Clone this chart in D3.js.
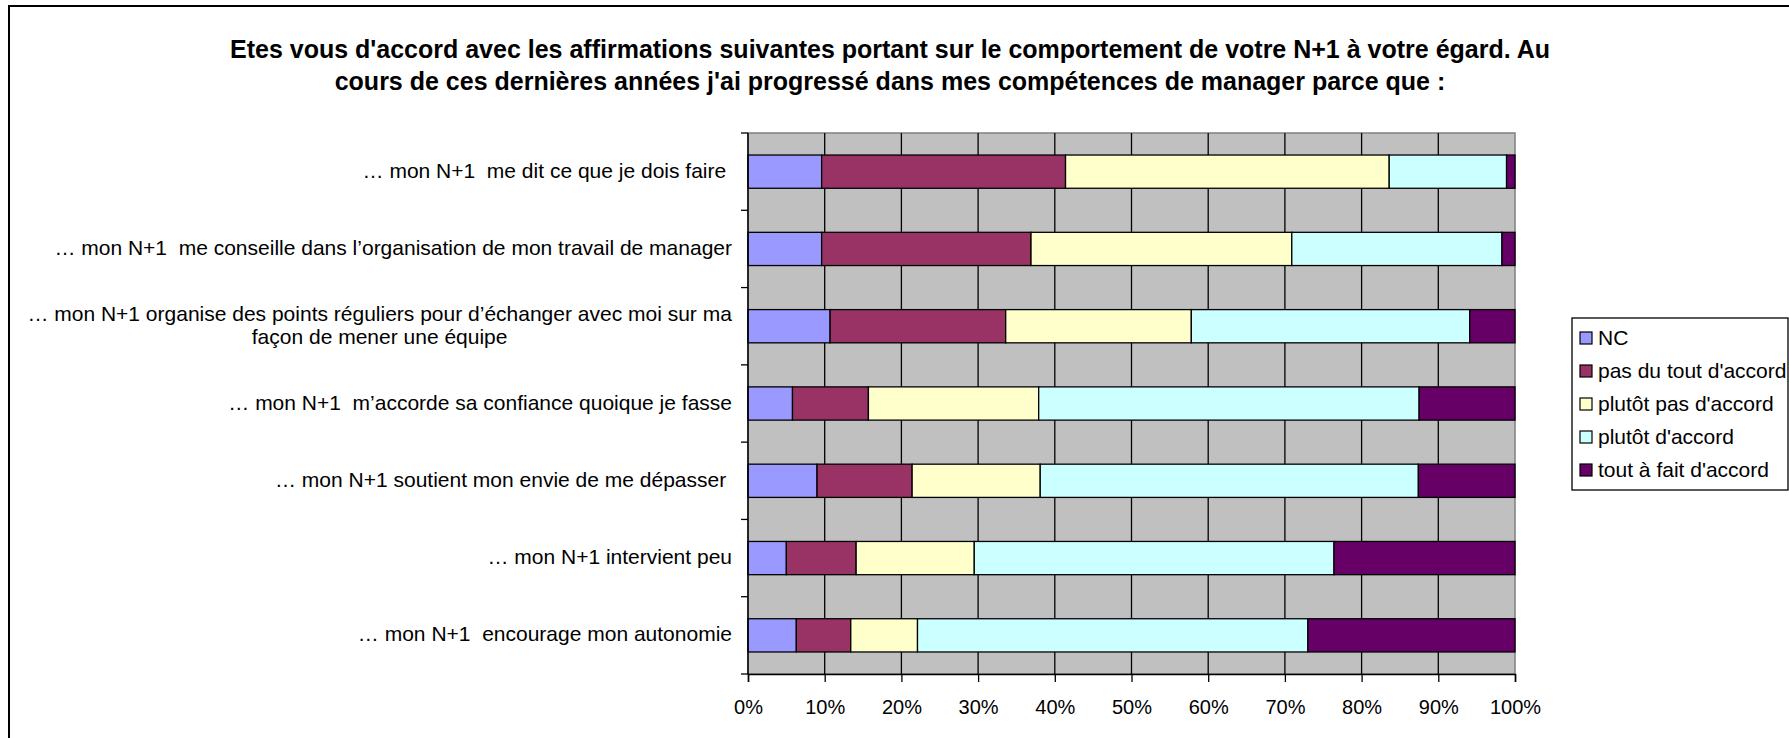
<!DOCTYPE html>
<html>
<head>
<meta charset="utf-8" />
<title>N+1</title>
<script src="https://cdnjs.cloudflare.com/ajax/libs/d3/7.8.5/d3.min.js"></script>
<style>
  body { margin: 0; background: white; }
  text { font-family: "Liberation Sans", Arial, sans-serif; fill: black; white-space: pre; }
</style>
</head>
<body>
<svg id="chart" width="1789" height="738"></svg>
<script>
// categories, top to bottom
var categories = [
  "… mon N+1  me dit ce que je dois faire ",
  "… mon N+1  me conseille dans l’organisation de mon travail de manager",
  "… mon N+1 organise des points réguliers pour d’échanger avec moi sur ma|façon de mener une équipe",
  "… mon N+1  m’accorde sa confiance quoique je fasse",
  "… mon N+1 soutient mon envie de me dépasser ",
  "… mon N+1 intervient peu",
  "… mon N+1  encourage mon autonomie"
];

var seriesNames = ["NC", "pas du tout d'accord", "plutôt pas d'accord", "plutôt d'accord", "tout à fait d'accord"];
var seriesColors = ["#9999FF", "#993366", "#FFFFCC", "#CCFFFF", "#660066"];

// percentages per category
var nc        = [9.6, 9.6, 10.7, 5.8, 9.0, 5.0, 6.3];
var pasDuTout = [31.8, 27.3, 22.9, 9.9, 12.4, 9.1, 7.1];
var plutotPas = [42.2, 34.0, 24.2, 22.2, 16.7, 15.4, 8.7];
var plutot    = [15.3, 27.4, 36.3, 49.6, 49.3, 46.9, 50.9];
var toutAFait = [1.1, 1.7, 5.9, 12.5, 12.6, 23.6, 27.0];

var xTicks = [0, 10, 20, 30, 40, 50, 60, 70, 80, 90, 100];

var titleLines = [
  "Etes vous d'accord avec les affirmations suivantes portant sur le comportement de votre N+1 à votre égard. Au",
  "cours de ces dernières années j'ai progressé dans mes compétences de manager parce que :"
];

var rows = categories.map(function(c, i) {
  return {cat: c, "NC": nc[i], "pas du tout d'accord": pasDuTout[i],
    "plutôt pas d'accord": plutotPas[i], "plutôt d'accord": plutot[i],
    "tout à fait d'accord": toutAFait[i]};
});

var svg = d3.select("#chart");
var pLeft = 748, pRight = 1515, pTop = 133, pBottom = 674;

// outer chart frame
svg.append("rect").attr("x", 9).attr("y", 6).attr("width", 1800).attr("height", 760)
  .attr("fill", "white").attr("stroke", "black").attr("stroke-width", 2);

// title
svg.selectAll(".title").data(titleLines).enter().append("text")
  .attr("x", 890).attr("y", function(d, i) { return 58 + i * 32; })
  .attr("text-anchor", "middle").style("font-weight", "bold").style("font-size", "25px")
  .text(function(d) { return d; });

var x = d3.scaleLinear().domain([0, 100]).range([pLeft, pRight]);
var y = d3.scaleBand().domain(categories).range([pTop, pBottom]).paddingInner(0.57).paddingOuter(0.285);

// plot background
svg.append("rect").attr("x", pLeft).attr("y", pTop).attr("width", pRight - pLeft).attr("height", pBottom - pTop)
  .attr("fill", "#C0C0C0").attr("stroke", "#808080").attr("stroke-width", 1.5);

// vertical gridlines
svg.selectAll(".grid").data(xTicks.slice(1, -1)).enter().append("line")
  .attr("x1", function(d) { return x(d); }).attr("x2", function(d) { return x(d); })
  .attr("y1", pTop).attr("y2", pBottom).attr("stroke", "black").attr("stroke-width", 1.3);

// stacked bars
var stack = d3.stack().keys(seriesNames);
var layers = stack(rows);
svg.selectAll(".layer").data(layers).enter().append("g")
  .attr("fill", function(d, i) { return seriesColors[i]; })
  .selectAll("rect").data(function(d) { return d; }).enter().append("rect")
  .attr("x", function(d) { return x(d[0]); })
  .attr("width", function(d) { return x(d[1]) - x(d[0]); })
  .attr("y", function(d) { return y(d.data.cat); })
  .attr("height", y.bandwidth())
  .attr("stroke", "black").attr("stroke-width", 1.3);

// y axis line and ticks at category boundaries
svg.append("line").attr("x1", pLeft).attr("x2", pLeft).attr("y1", pTop).attr("y2", pBottom)
  .attr("stroke", "black").attr("stroke-width", 1.5);
var bounds = d3.range(categories.length + 1).map(function(i) { return pTop + i * y.step(); });
svg.selectAll(".ytick").data(bounds).enter().append("line")
  .attr("x1", pLeft - 7).attr("x2", pLeft).attr("y1", function(d) { return d; }).attr("y2", function(d) { return d; })
  .attr("stroke", "black").attr("stroke-width", 1.3);

// category labels
categories.forEach(function(c) {
  var lines = c.split("|");
  var cy = y(c) + y.bandwidth() / 2;
  var g = svg.append("text").style("font-size", "21px");
  if (lines.length == 1) {
    g.attr("x", 732).attr("y", cy + 6).attr("text-anchor", "end").text(c);
  } else {
    g.attr("text-anchor", "middle");
    lines.forEach(function(l, i) {
      g.append("tspan").attr("x", 0).attr("y", cy - 5 + i * 23).text(l);
    });
    var w = g.node().getBBox().width;
    g.selectAll("tspan").attr("x", 732 - w / 2);
  }
});

// x axis
var xAxis = d3.axisBottom(x).tickValues(xTicks).tickSize(8).tickFormat(function(d) { return d + "%"; });
var ax = svg.append("g").attr("transform", "translate(0," + pBottom + ")").call(xAxis);
ax.select(".domain").attr("stroke", "black").attr("stroke-width", 1.5);
ax.selectAll(".tick line").attr("stroke", "black").attr("stroke-width", 1.3);
ax.selectAll(".tick text").attr("y", 40).attr("dy", 0).style("font-size", "20px")
  .style("font-family", "Liberation Sans, Arial, sans-serif").attr("fill", "black");

// legend
var lg = svg.append("g");
lg.append("rect").attr("x", 1572).attr("y", 318).attr("width", 216).attr("height", 172)
  .attr("fill", "white").attr("stroke", "black").attr("stroke-width", 1.3);
var items = lg.selectAll(".item").data(seriesNames).enter().append("g")
  .attr("transform", function(d, i) { return "translate(1580," + (338 + i * 33) + ")"; });
items.append("rect").attr("x", 0).attr("y", -6).attr("width", 12).attr("height", 12)
  .attr("fill", function(d, i) { return seriesColors[i]; }).attr("stroke", "black").attr("stroke-width", 1.2);
items.append("text").attr("x", 18).attr("y", 7).style("font-size", "21px").text(function(d) { return d; });
</script>
</body>
</html>
